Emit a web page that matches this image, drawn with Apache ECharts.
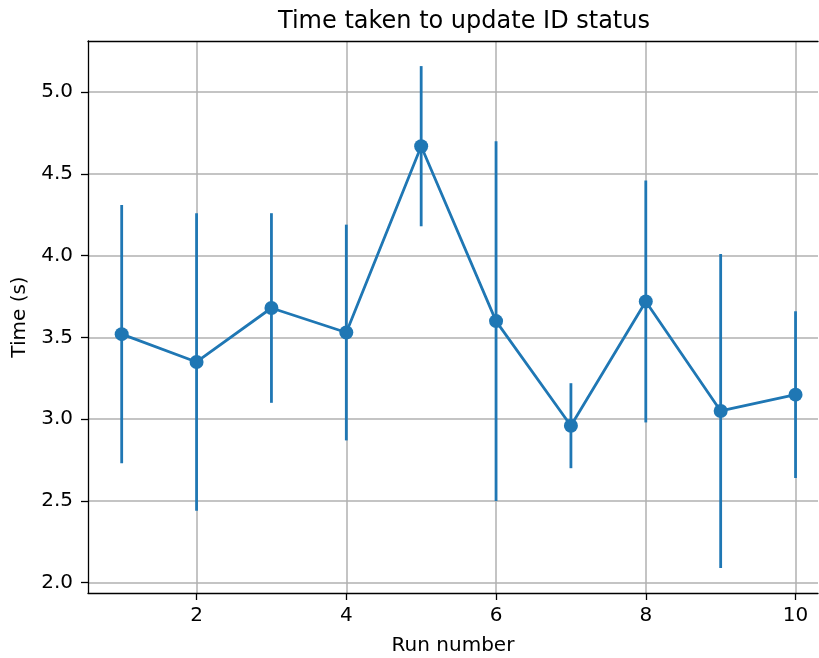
<!DOCTYPE html>
<html>
<head>
<meta charset="utf-8">
<script src="https://cdn.jsdelivr.net/npm/echarts@6/dist/echarts.min.js"></script>
<style>
  html, body { margin: 0; padding: 0; background: #fff; }
  #chart { width: 819px; height: 658px; }
</style>
</head>
<body>
<div id="chart"></div>
<script>
// values
const runs = [1, 2, 3, 4, 5, 6, 7, 8, 9, 10]
const meanTime = [3.52, 3.35, 3.68, 3.53, 4.67, 3.60, 2.96, 3.72, 3.05, 3.15]
const errTime = [0.79, 0.91, 0.58, 0.66, 0.49, 1.10, 0.26, 0.74, 0.96, 0.51]
const xTicks = [2, 4, 6, 8, 10]
const yTicks = [2.0, 2.5, 3.0, 3.5, 4.0, 4.5, 5.0]

const blue = '#1f77b4'
const font = 'DejaVu Sans'
const gridLine = { show: true, lineStyle: { color: '#b0b0b0', width: 1.5 } }

const chart = echarts.init(document.getElementById('chart'), null, { renderer: 'canvas' })

const linePoints = runs.map((r, i) => [r, meanTime[i]])
const barPoints = runs.map((r, i) => [r, meanTime[i] - errTime[i], meanTime[i] + errTime[i]])

const option = {
  backgroundColor: '#fff',
  animation: false,
  title: {
    text: 'Time taken to update ID status',
    left: 459,
    top: 5,
    textAlign: 'center',
    textStyle: { fontFamily: font, fontSize: 24, fontWeight: 'normal', color: '#000' },
  },
  // the source figure is cropped on the right, so the right spine is off-canvas
  grid: { left: 88, top: 41, right: 1, bottom: 65, show: false, outerBoundsMode: 'none' },
  xAxis: [
    {
      type: 'value',
      min: 0.55,
      max: 10.3,
      name: 'Run number',
      nameLocation: 'middle',
      nameGap: 43,
      nameTextStyle: { fontFamily: font, fontSize: 20, color: '#000' },
      axisLine: { show: true, lineStyle: { color: '#000', width: 1.3 } },
      axisTick: { show: true, inside: false, length: 7, customValues: xTicks, lineStyle: { color: '#000', width: 1.3 } },
      axisLabel: { customValues: xTicks, margin: 13, fontFamily: font, fontSize: 20, color: '#000' },
      splitLine: gridLine,
    },
    {
      // top spine only
      type: 'value',
      position: 'top',
      min: 0.55,
      max: 10.3,
      axisLine: { show: true, onZero: false, lineStyle: { color: '#000', width: 1.3 } },
      axisTick: { show: false },
      axisLabel: { show: false },
      splitLine: { show: false },
    },
  ],
  yAxis: {
    type: 'value',
    min: 1.9365,
    max: 5.3135,
    name: 'Time (s)',
    nameLocation: 'middle',
    nameGap: 55,
    nameTextStyle: { fontFamily: font, fontSize: 20, color: '#000' },
    axisLine: { show: true, onZero: false, lineStyle: { color: '#000', width: 1.3 } },
    axisTick: { show: true, inside: false, length: 7, customValues: yTicks, lineStyle: { color: '#000', width: 1.3 } },
    axisLabel: {
      customValues: yTicks,
      margin: 15,
      fontFamily: font,
      fontSize: 20,
      color: '#000',
      formatter: (v) => v.toFixed(1),
    },
    splitLine: gridLine,
  },
  series: [
    {
      type: 'custom',
      name: 'error',
      data: barPoints,
      z: 3,
      renderItem: (params, api) => {
        const top = api.coord([api.value(0), api.value(2)])
        const bottom = api.coord([api.value(0), api.value(1)])
        return {
          type: 'line',
          shape: { x1: top[0], y1: top[1], x2: bottom[0], y2: bottom[1] },
          style: { stroke: blue, lineWidth: 2.8 },
        }
      },
    },
    {
      type: 'line',
      name: 'mean',
      data: linePoints,
      z: 4,
      symbol: 'circle',
      symbolSize: 14,
      showSymbol: true,
      itemStyle: { color: blue },
      lineStyle: { color: blue, width: 2.8 },
    },
  ],
}

chart.setOption(option)
</script>
</body>
</html>
